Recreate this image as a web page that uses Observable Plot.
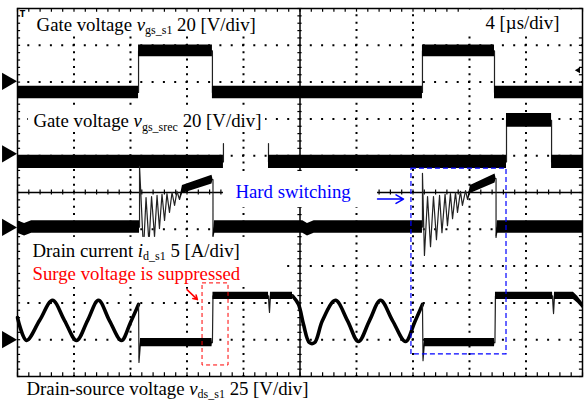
<!DOCTYPE html>
<html><head><meta charset="utf-8">
<script src="https://cdn.jsdelivr.net/npm/d3@7"></script>
<script src="https://cdn.jsdelivr.net/npm/@observablehq/plot@0.6"></script>
<style>body{margin:0;background:#fff;}svg{display:block;}</style>
</head><body><div id="chart"></div>
<script>
// ---- Oscilloscope traces: [time (µs), level (div), noise half-width (div)] ----
const gate1 = [
  [0, 2.72, .17], [8.57, 2.72, .17], [8.57, 3.85, .16], [13.80, 3.85, .16], [13.80, 2.72, .17],
  [28.67, 2.72, .17], [28.67, 3.85, .16], [33.77, 3.85, .16], [33.77, 2.72, .17], [40, 2.72, .17]
];
const gate2 = [
  [0, 0.83, .18], [14.58, 0.83, .18], [14.58, 1.33, 0], [16.2, NaN, 0], [17.77, 1.33, 0],
  [17.77, 0.83, .18], [34.62, 0.83, .18], [34.62, 1.96, .19], [37.81, 1.96, .19],
  [37.81, 0.83, .18], [40, 0.83, .18]
];
const current = [
  [0, -0.94, .17], [0.50, -1.01, .17], [1.0, -0.94, .17], [8.64, -0.94, .17],
  [8.64, 0.71, 0], [8.92, -1.58, 0], [9.10, -0.14, 0], [9.31, -1.39, 0], [9.49, -0.11, 0],
  [9.70, -1.20, 0], [9.88, -0.08, 0], [10.05, -0.98, 0], [10.23, -0.05, 0], [10.41, -0.76, 0],
  [10.58, -0.03, 0], [10.76, -0.54, 0], [10.94, 0, 0], [11.12, -0.35, 0], [11.29, 0.03, 0],
  [11.47, -0.19, 0], [11.68, 0.08, .11], [13.77, 0.35, .12], [13.84, 0.35, 0], [13.84, -1.22, 0],
  [13.95, -0.94, .17], [20.2, -0.94, .17], [20.53, -1.01, .17], [21.0, -0.94, .17], [28.67, -0.94, .17],
  [28.67, 0.52, 0], [28.81, -1.71, 0], [29.03, -0.11, 0], [29.24, -1.47, 0], [29.45, -0.11, 0],
  [29.66, -1.28, 0], [29.88, -0.08, 0], [30.05, -1.09, 0], [30.27, -0.05, 0], [30.44, -0.90, 0],
  [30.65, -0.03, 0], [30.80, -0.71, 0], [31.01, 0, 0], [31.15, -0.54, 0], [31.36, 0.03, 0],
  [31.50, -0.35, 0], [31.72, 0.05, 0], [31.86, -0.19, 0], [32.07, 0.08, .11], [33.81, 0.38, .12],
  [33.88, 0.38, 0], [33.88, -1.22, 0], [33.98, -0.94, .17], [40, -0.94, .17]
];
const vdsRing1 = [
  [0, -3.40], [0.64, -4.02], [1.56, -3.48], [2.48, -2.93], [3.33, -3.48], [4.18, -4.02],
  [4.96, -3.48], [5.73, -2.93], [6.51, -3.48], [7.36, -4.02], [8.00, -3.53], [8.57, -3.04]
];
const vdsSquare1 = [
  [8.57, -3.04, 0], [8.60, -4.62, 0], [8.71, -4.08, .11], [13.77, -4.08, .11], [13.80, -4.08, 0],
  [13.84, -2.81, .1], [17.77, -2.81, .1], [17.84, -3.26, 0], [17.91, -2.81, .1], [19.47, -2.81, .1]
];
const vdsRing2 = [
  [19.47, -2.81], [19.89, -3.04], [20.25, -3.59], [20.67, -4.08], [21.03, -4.08], [21.59, -3.48],
  [22.51, -2.93], [23.36, -3.48], [24.14, -4.05], [24.92, -3.48], [25.70, -2.93], [26.55, -3.48],
  [27.47, -4.05], [28.11, -3.53], [28.67, -3.04]
];
const vdsSquare2 = [
  [28.67, -3.04, 0], [28.71, -4.57, 0], [28.81, -4.08, .11], [33.77, -4.08, .11], [33.80, -4.08, 0],
  [33.84, -2.81, .1], [37.88, -2.81, .1], [37.95, -3.29, 0], [38.02, -2.81, .1], [39.36, -2.81, .1],
  [39.65, -2.91, .09], [40.0, -3.07, .08]
];
// channel ground markers (div)
const markerLevels = [3.02, 1.05, -0.95, -4.0];

// ---- Graticule ----
const gridX = [4, 8, 12, 16, 24, 28, 32, 36];
const gridY = [-4, -3, -2, -1, 1, 2, 3, 4];
const minorX = d3.range(0, 40.001, 0.8);
const minorY = d3.range(-5, 5.001, 0.2);

// ---- Annotations ----
const labelsBlack = [
  {x: 1.35, y: 4.40, text: "Gate voltage {v}{gs_s1} 20 [V/div]"},
  {x: 1.13, y: 1.77, text: "Gate voltage {v}{gs_srec} 20 [V/div]"},
  {x: 1.06, y: -1.74, text: "Drain current {i}{d_s1} 5 [A/div]"},
  {x: 0.64, y: -5.50, text: "Drain-source voltage {v}{ds_s1} 25 [V/div]"}
];
const labelTime = [{x: 38.37, y: 4.43, text: "4 [µs/div]"}];
const labelRed = [{x: 1.06, y: -2.37, text: "Surge voltage is suppressed"}];
const labelBlue = [{x: 15.43, y: -0.14, text: "Hard switching"}];
const whiteBoxes = [
  {x1: 0.92, x2: 17.35, y1: 4.89, y2: 4.30},
  {x1: 31.5, x2: 40, y1: 4.96, y2: 4.24},
  {x1: 0.78, x2: 17.56, y1: 2.36, y2: 1.66},
  {x1: 0.28, x2: 18.97, y1: -1.22, y2: -2.58},
  {x1: 14.58, x2: 25.49, y1: 0.57, y2: -0.41}
];
const redBox = [{x1: 13.10, x2: 14.94, y1: -2.47, y2: -4.70}];
const blueBox = [{x1: 27.89, x2: 34.62, y1: 0.65, y2: -4.40}];
const redArrow = [{x1: 12.0, y1: -2.64, x2: 12.74, y2: -2.91}];
const blueArrow = [{x1: 25.49, y1: -0.18, x2: 27.33, y2: -0.18}];

const X = d => d[0], V = d => d[1];
const band = (tr) => [
  Plot.line(tr, {x: X, y: V, stroke: "#222", strokeWidth: 1.2}),
  Plot.areaY(tr, {x: X, y1: d => d[1] - d[2], y2: d => d[1] + d[2], fill: "#000"})
];
const ring = (tr) => Plot.line(tr, {x: X, y: V, curve: "catmull-rom", stroke: "#000", strokeWidth: 3.6});
const FONT = "'Liberation Serif', 'Times New Roman', serif";
const txt = (data, fill, anchor = "start") => Plot.text(data, {
  x: "x", y: "y", text: "text", fill, textAnchor: anchor, lineAnchor: "bottom",
  fontSize: 18.8, fontFamily: FONT
});

const svg = Plot.plot({
  width: 588, height: 403,
  marginTop: 8, marginBottom: 27, marginLeft: 17, marginRight: 6,
  x: {domain: [0, 40], axis: null},
  y: {domain: [-5, 5], axis: null},
  style: {background: "white", fontFamily: FONT},
  marks: [
    Plot.ruleX(gridX, {stroke: "black", strokeWidth: 2, strokeDasharray: "2 5.36", strokeDashoffset: 1}),
    Plot.ruleY(gridY, {stroke: "black", strokeWidth: 2, strokeDasharray: "2 9.3", strokeDashoffset: 1}),
    Plot.ruleX([20], {stroke: "black", strokeWidth: 1.5}),
    Plot.ruleY([0], {stroke: "black", strokeWidth: 1.5}),
    Plot.ruleX(minorX, {x: d => d, y1: -0.07, y2: 0.07, stroke: "black", strokeWidth: 1.2}),
    Plot.ruleY(minorY, {y: d => d, x1: 19.85, x2: 20.15, stroke: "black", strokeWidth: 1.2}),
    Plot.ruleX(minorX, {x: d => d, y1: 5, y2: 4.9, stroke: "black", strokeWidth: 1.2}),
    Plot.ruleX(minorX, {x: d => d, y1: -5, y2: -4.9, stroke: "black", strokeWidth: 1.2}),
    Plot.ruleY(minorY, {y: d => d, x1: 0, x2: 0.22, stroke: "black", strokeWidth: 1.2}),
    Plot.ruleY(minorY, {y: d => d, x1: 40, x2: 39.78, stroke: "black", strokeWidth: 1.2}),
    ...band(gate1),
    ...band(gate2),
    ...band(current),
    ring(vdsRing1),
    ring(vdsRing2),
    ...band(vdsSquare1),
    ...band(vdsSquare2),
    Plot.rect(whiteBoxes, {x1: "x1", x2: "x2", y1: "y1", y2: "y2", fill: "white"}),
    Plot.frame({stroke: "black", strokeWidth: 1.5}),
    Plot.dot(markerLevels, {x: -0.74, y: d => d, symbol: "triangle", rotate: 90, r: 6.4, fill: "black"}),
    Plot.dot([3.32], {x: 39.7, y: d => d, symbol: "triangle", rotate: -90, r: 2.2, fill: "black"}),
    Plot.text(["T"], {x: 0.35, y: 4.83, text: d => d, fontSize: 8, fontWeight: "bold", fontFamily: "DejaVu Sans", fill: "black"}),
    txt(labelsBlack, "black"),
    txt(labelTime, "black", "end"),
    txt(labelRed, "#ff0000"),
    txt(labelBlue, "#0000ff"),
    Plot.rect(redBox, {x1: "x1", x2: "x2", y1: "y1", y2: "y2", fill: "none", stroke: "#ff0000", strokeWidth: 1, strokeDasharray: "4 3"}),
    Plot.rect(blueBox, {x1: "x1", x2: "x2", y1: "y1", y2: "y2", fill: "none", stroke: "#0000ff", strokeWidth: 1.2, strokeDasharray: "5 3"}),
    Plot.arrow(redArrow, {x1: "x1", y1: "y1", x2: "x2", y2: "y2", stroke: "#ff0000", strokeWidth: 1.5, headLength: 7}),
    Plot.arrow(blueArrow, {x1: "x1", y1: "y1", x2: "x2", y2: "y2", stroke: "#0000ff", strokeWidth: 1.5, headLength: 9})
  ]
});

// italic variable + subscript formatting
d3.select(svg).selectAll("text").each(function () {
  const s = this.textContent;
  const m = s.match(/^(.*?)\{(.+?)\}\{(.+?)\}(.*)$/);
  if (!m) return;
  const sel = d3.select(this);
  sel.text(null);
  sel.append("tspan").text(m[1]);
  sel.append("tspan").attr("font-style", "italic").text(m[2]);
  sel.append("tspan").attr("font-size", "12px").attr("dy", "3.5").text(m[3]);
  sel.append("tspan").attr("dy", "-3.5").text(m[4]);
});

document.getElementById("chart").appendChild(svg);
</script>
</body></html>
